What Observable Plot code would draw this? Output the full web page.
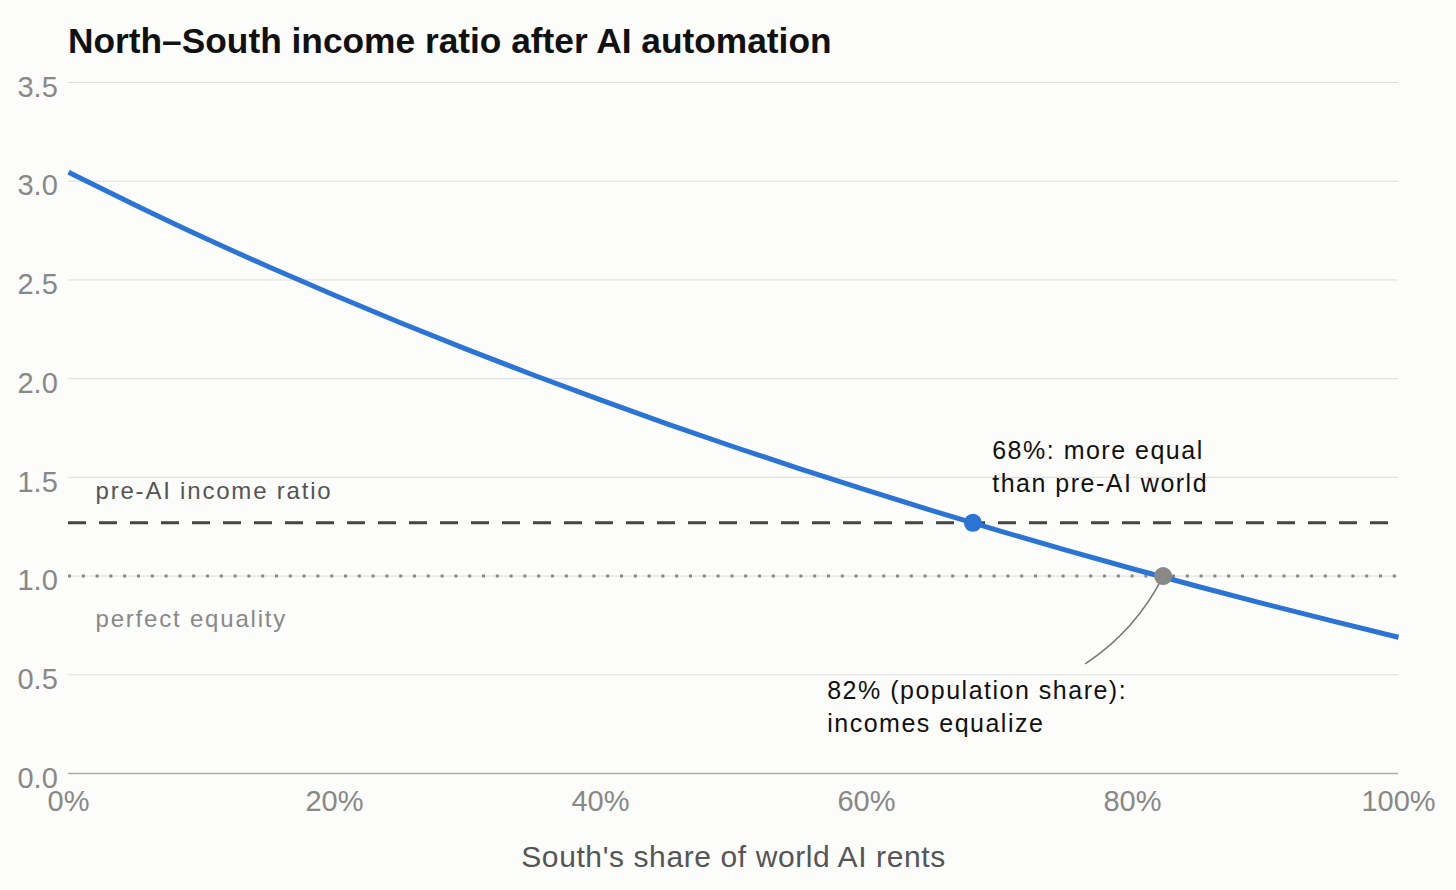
<!DOCTYPE html>
<html>
<head>
<meta charset="utf-8">
<script src="https://cdn.jsdelivr.net/npm/d3@7"></script>
<script src="https://cdn.jsdelivr.net/npm/@observablehq/plot@0.6"></script>
<style>
  html, body { margin: 0; padding: 0; background: #fcfcfb; }
  body { width: 1456px; height: 890px; overflow: hidden; font-family: "Liberation Sans", Arial, Helvetica, sans-serif; }
  #title { height: 70px; box-sizing: border-box; padding-left: 68px; padding-top: 22.5px; font-size: 35.3px; line-height: 35px; font-weight: bold; color: #111; white-space: nowrap; }
  #chart svg { display: block; }
  .ls-xlabel text { letter-spacing: 0.6px; }
  .ls-ref text { letter-spacing: 1.8px; }
  .ls-note text { letter-spacing: 1.5px; }
</style>
</head>
<body>
<div id="title"></div>
<div id="chart"></div>
<script>
// ---- Data ----
const share = [0, 0.05, 0.10, 0.15, 0.20, 0.25, 0.30, 0.35, 0.40, 0.45, 0.50, 0.55, 0.60, 0.65, 0.70, 0.75, 0.80, 0.85, 0.90, 0.95, 1.00];
const ratio = [3.045, 2.880, 2.720, 2.568, 2.422, 2.282, 2.147, 2.017, 1.892, 1.771, 1.655, 1.543, 1.435, 1.330, 1.229, 1.131, 1.037, 0.946, 0.858, 0.773, 0.690];

const yTicks = [0, 0.5, 1.0, 1.5, 2.0, 2.5, 3.0, 3.5];
const xTicks = [0, 0.2, 0.4, 0.6, 0.8, 1.0];

const preAIRatio = 1.27;
const equalityRatio = 1.0;

const crossPreAI = [{x: 0.68, y: 1.27}];
const crossEqual = [{x: 0.823, y: 1.0}];

const titleText = "North–South income ratio after AI automation";
const xLabel = "South's share of world AI rents";
const preAILabel = "pre-AI income ratio";
const equalityLabel = "perfect equality";
const noteA = "68%: more equal\nthan pre-AI world";
const noteB = "82% (population share):\nincomes equalize";
const connector = [{x1: 0.7647, y1: 0.557, x2: 0.823, y2: 1.0}];

// ---- Chart ----
const data = share.map((s, i) => ({share: s, ratio: ratio[i]}));
const blue = "#2b74d4";

const chart = Plot.plot({
  width: 1456,
  height: 820,
  marginLeft: 68,
  marginRight: 58,
  marginTop: 12,
  marginBottom: 117,
  style: {background: "transparent", fontFamily: "'Liberation Sans', Arial, Helvetica, sans-serif", overflow: "visible"},
  x: {domain: [0, 1]},
  y: {domain: [0, 3.5]},
  marks: [
    Plot.ruleY(yTicks.filter(d => d > 0), {stroke: "#dcdcdc", strokeWidth: 1}),
    Plot.ruleY([0], {stroke: "#aaaaaa", strokeWidth: 1.5}),
    Plot.ruleY([preAIRatio], {stroke: "#444", strokeWidth: 3, strokeDasharray: "18,13"}),
    Plot.ruleY([equalityRatio], {stroke: "#888", strokeWidth: 3, strokeDasharray: "3,10.8"}),
    Plot.arrow(connector, {x1: "x1", y1: "y1", x2: "x2", y2: "y2", bend: -15, headLength: 0, stroke: "#777", strokeWidth: 1.5}),
    Plot.line(data, {x: "share", y: "ratio", stroke: blue, strokeWidth: 5, curve: "natural", strokeLinecap: "butt"}),
    Plot.dot(crossPreAI, {x: "x", y: "y", r: 9, fill: blue}),
    Plot.dot(crossEqual, {x: "x", y: "y", r: 9, fill: "#888"}),
    Plot.axisY({ticks: yTicks, tickFormat: d3.format(".1f"), tickSize: 0, tickPadding: 10.7, fontSize: 29, fill: "#888", dy: 5, label: null}),
    Plot.axisX({ticks: xTicks, tickFormat: d3.format(".0%"), tickSize: 0, tickPadding: 17.2, fontSize: 29, fill: "#888", label: null}),
    Plot.text([xLabel], {frameAnchor: "bottom", dy: 93, lineAnchor: "bottom", fontSize: 30, fill: "#555", className: "ls-xlabel"}),
    Plot.text([{x: 0, y: preAIRatio, t: preAILabel}], {x: "x", y: "y", text: "t", dx: 27, dy: -23.8, textAnchor: "start", lineAnchor: "bottom", fontSize: 24, fill: "#555", className: "ls-ref"}),
    Plot.text([{x: 0, y: equalityRatio, t: equalityLabel}], {x: "x", y: "y", text: "t", dx: 27, dy: 51.4, textAnchor: "start", lineAnchor: "bottom", fontSize: 24, fill: "#888", className: "ls-ref"}),
    Plot.text(crossPreAI, {x: "x", y: "y", text: () => noteA, dx: 19.3, dy: -30.6, textAnchor: "start", lineAnchor: "bottom", lineHeight: 1.336, fontSize: 25, fill: "#111", className: "ls-note"}),
    Plot.text(crossEqual, {x: "x", y: "y", text: () => noteB, dx: -335.9, dy: 156.1, textAnchor: "start", lineAnchor: "bottom", lineHeight: 1.336, fontSize: 25, fill: "#111", className: "ls-note"})
  ]
});

document.getElementById("title").textContent = titleText;
document.getElementById("chart").appendChild(chart);

// letter-spacing fallback (inline style) in case className is not applied
const svg = d3.select(chart);
svg.selectAll("text").each(function () {
  const t = this.textContent;
  const el = d3.select(this);
  if (t === xLabel) el.style("letter-spacing", "0.6px");
  else if (t === preAILabel || t === equalityLabel) el.style("letter-spacing", "1.8px");
  else if (t.startsWith("68%") || t.startsWith("82%")) el.style("letter-spacing", "1.5px");
});
</script>
</body>
</html>
